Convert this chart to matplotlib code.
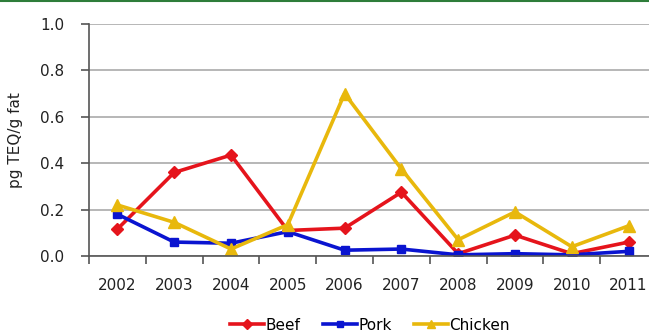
import matplotlib.pyplot as plt
from matplotlib.lines import Line2D

years = ["2002", "2003", "2004", "2005", "2006", "2007", "2008", "2009", "2010", "2011"]
beef = [0.116, 0.36, 0.435, 0.11, 0.12, 0.275, 0.01, 0.09, 0.01, 0.06]
pork = [0.18, 0.06, 0.055, 0.105, 0.025, 0.03, 0.005, 0.01, 0.005, 0.02]
chicken = [0.22, 0.145, 0.03, 0.135, 0.70, 0.375, 0.07, 0.19, 0.04, 0.13]

fig = plt.figure(figsize=(6.49, 3.33), dpi=100)
ax = fig.add_axes([89/649, 1-256/333, 568/649, 232/333])

x = list(range(len(years)))
ax.plot(x, beef, color="#e5141c", marker="D", ms=6, lw=2.6, label="Beef")
ax.plot(x, pork, color="#0a14d0", marker="s", ms=6, lw=2.6, label="Pork")
ax.plot(x, chicken, color="#e8b80c", marker="^", ms=8, lw=2.6, label="Chicken")

ax.set_xlim(-0.5, len(years) - 0.5)
ax.set_ylim(0, 1.0)
ax.set_yticks([0, 0.2, 0.4, 0.6, 0.8, 1.0])
ax.set_yticklabels(["0.0", "0.2", "0.4", "0.6", "0.8", "1.0"])
ax.set_xticks(x)
ax.set_xticklabels(years)
ax.set_xticks([i - 0.5 for i in range(len(years) + 1)], minor=True)
ax.tick_params(axis="x", which="major", length=0, pad=16)
ax.tick_params(axis="x", which="minor", length=6, width=1.2, color="#555555", direction="out")
ax.tick_params(axis="y", length=6, width=1.2, color="#555555", direction="out", pad=12)
ax.tick_params(labelsize=11, labelcolor="#222222")
ax.grid(axis="y", color="#aaaaaa", lw=1.2)
ax.set_axisbelow(True)
for s in ["top", "right"]:
    ax.spines[s].set_visible(False)
for s in ["left", "bottom"]:
    ax.spines[s].set_color("#555555")
    ax.spines[s].set_linewidth(1.2)
ax.set_ylabel("pg TEQ/g fat", fontsize=11, color="#222222", labelpad=12)

handles = [
    Line2D([], [], color="#e5141c", marker="D", ms=5, lw=2.6),
    Line2D([], [], color="#0a14d0", marker="s", ms=5, lw=2.6),
    Line2D([], [], color="#e8b80c", marker="^", ms=6, lw=2.6),
]
fig.legend(handles, ["Beef", "Pork", "Chicken"], loc="center", ncol=3,
           bbox_to_anchor=(370/649, 1-325/333), frameon=False, fontsize=11,
           handlelength=2.2, handletextpad=0.1, columnspacing=1.5)

fig.add_artist(Line2D([0, 1], [0.997, 0.997], color="#2e7d3a", lw=1.5))

fig.savefig("out.png", dpi=100)
